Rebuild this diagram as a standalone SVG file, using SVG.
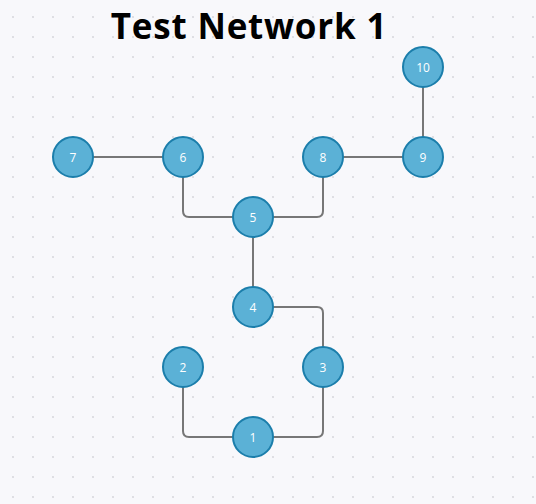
<svg xmlns="http://www.w3.org/2000/svg" width="536" height="504" viewBox="0 0 536 504">
<style>
.node circle{fill:#5bb1d6;stroke:#1b7eab;stroke-width:2}
.node text{fill:#fff;font-family:"Open Sans",sans-serif;font-size:12px;text-anchor:middle;dominant-baseline:central}
.edge{fill:none;stroke:#777;stroke-width:2}
.title{font-family:"Open Sans",sans-serif;font-weight:bold;font-size:35px;letter-spacing:0.8px;fill:#000}
</style>
<defs>
<pattern id="dots" x="3" y="7" width="20" height="20" patternUnits="userSpaceOnUse">
<circle cx="10" cy="10" r="1.1" fill="#d8d8de"/>
</pattern>
</defs>
<rect width="536" height="504" fill="#f8f8fb"/>
<rect width="536" height="504" fill="url(#dots)"/>
<text class="title" x="249" y="39" text-anchor="middle">Test Network 1</text>
<g id="connectors">
<path class="edge" d="M93 157H163"/>
<path class="edge" d="M343 157H403"/>
<path class="edge" d="M423 87V137"/>
<path class="edge" d="M183 177V211Q183 217 189 217H233"/>
<path class="edge" d="M323 177V211Q323 217 317 217H273"/>
<path class="edge" d="M253 237V287"/>
<path class="edge" d="M273 307H317Q323 307 323 313V347"/>
<path class="edge" d="M183 387V431Q183 437 189 437H233"/>
<path class="edge" d="M323 387V431Q323 437 317 437H273"/>
</g>
<g id="n10" class="node"><circle cx="423" cy="67" r="20"/><text x="423" y="67">10</text></g>
<g id="n7" class="node"><circle cx="73" cy="157" r="20"/><text x="73" y="157">7</text></g>
<g id="n6" class="node"><circle cx="183" cy="157" r="20"/><text x="183" y="157">6</text></g>
<g id="n8" class="node"><circle cx="323" cy="157" r="20"/><text x="323" y="157">8</text></g>
<g id="n9" class="node"><circle cx="423" cy="157" r="20"/><text x="423" y="157">9</text></g>
<g id="n5" class="node"><circle cx="253" cy="217" r="20"/><text x="253" y="217">5</text></g>
<g id="n4" class="node"><circle cx="253" cy="307" r="20"/><text x="253" y="307">4</text></g>
<g id="n2" class="node"><circle cx="183" cy="367" r="20"/><text x="183" y="367">2</text></g>
<g id="n3" class="node"><circle cx="323" cy="367" r="20"/><text x="323" y="367">3</text></g>
<g id="n1" class="node"><circle cx="253" cy="437" r="20"/><text x="253" y="437">1</text></g>
</svg>
